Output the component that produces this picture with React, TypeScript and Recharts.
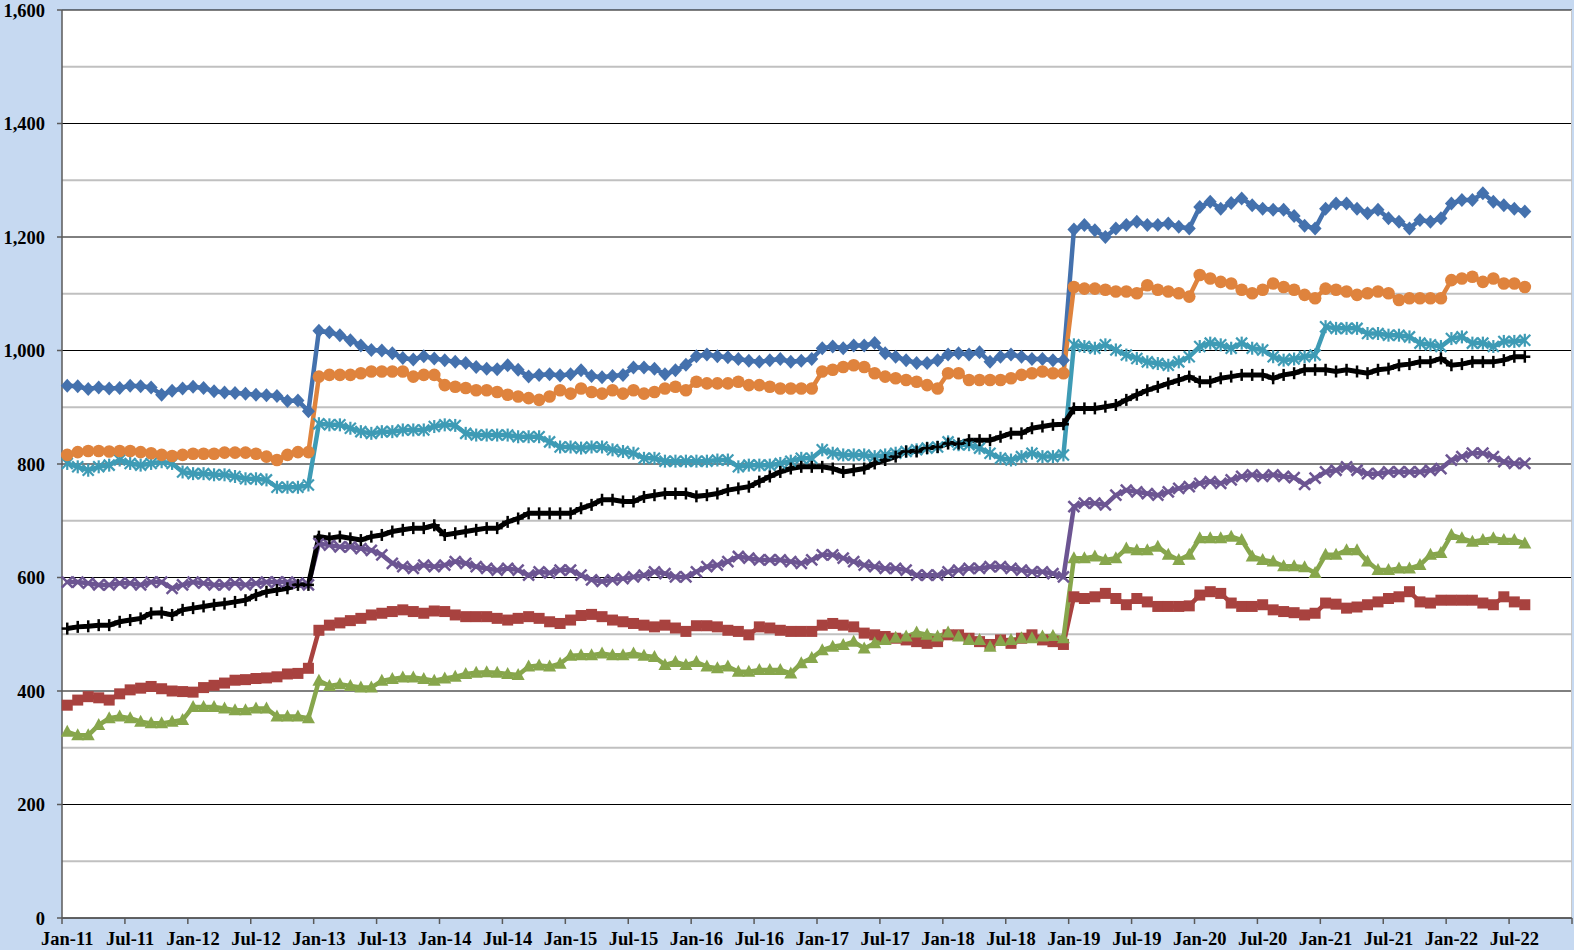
import { CartesianGrid, Line, LineChart, ReferenceLine, XAxis, YAxis } from 'recharts';

const monthNames = ['Jan', 'Feb', 'Mar', 'Apr', 'May', 'Jun', 'Jul', 'Aug', 'Sep', 'Oct', 'Nov', 'Dec'];
const years = ['11', '12', '13', '14', '15', '16', '17', '18', '19', '20', '21', '22'];
const categories = years.flatMap((y) => monthNames.map((m) => `${m}-${y}`));

const yTicks = [0, 200, 400, 600, 800, 1000, 1200, 1400, 1600];
const minorLines = [100, 300, 500, 700, 900, 1100, 1300, 1500];

// monthly values Jan-11 .. Aug-22
const blueSeries = [
  938, 937, 932, 935, 933, 934, 938, 937, 935, 922, 929, 933,
  936, 934, 928, 926, 925, 924, 922, 921, 920, 911, 912, 893,
  1035, 1032, 1027, 1018, 1009, 1001, 1000, 995, 987, 984, 990, 986,
  983, 980, 978, 971, 968, 967, 974, 966, 954, 957, 958, 956,
  958, 965, 955, 953, 955, 957, 970, 970, 968, 958, 965, 975,
  990, 993, 990, 988, 985, 982, 980, 983, 985, 980, 982, 985,
  1004, 1007, 1004, 1009, 1009, 1013, 995, 989, 983, 978, 978, 983,
  993, 995, 993, 997, 980, 989, 993, 989, 985, 985, 983, 983,
  1213, 1221, 1212, 1200, 1215, 1221, 1227, 1221, 1221, 1224, 1218, 1215,
  1253, 1262, 1250, 1260, 1268, 1256, 1250, 1248, 1248, 1237, 1220, 1215,
  1250, 1259, 1259, 1250, 1242, 1248, 1233, 1227, 1215, 1230, 1227, 1233,
  1259, 1265, 1265, 1277, 1262, 1256, 1250, 1245,
];
const redSeries = [
  375, 384, 390, 388, 384, 395, 402, 405, 408, 404, 400, 399,
  398, 406, 410, 414, 419, 420, 422, 423, 425, 430, 431, 440,
  507, 516, 520, 524, 528, 534, 537, 540, 543, 540, 537, 541,
  540, 534, 531, 531, 531, 528, 525, 528, 531, 528, 522, 519,
  525, 533, 535, 531, 525, 522, 519, 516, 513, 516, 511, 505,
  515, 515, 513, 507, 505, 499, 513, 511, 507, 505, 505, 505,
  516, 519, 516, 513, 502, 499, 496, 493, 490, 487, 484, 487,
  499, 499, 493, 487, 482, 490, 484, 493, 499, 490, 487, 482,
  566, 563, 566, 572, 563, 552, 563, 557, 549, 549, 549, 550,
  569, 575, 572, 555, 549, 549, 552, 543, 540, 538, 534, 537,
  555, 553, 546, 548, 552, 557, 563, 566, 575, 557, 555, 560,
  560, 560, 560, 555, 552, 566, 557, 552,
];
const greenSeries = [
  328, 322, 322, 340, 352, 355, 352, 346, 343, 343, 346, 349,
  372, 372, 372, 369, 366, 366, 369, 369, 355, 355, 355, 352,
  418, 409, 412, 409, 406, 406, 418, 421, 424, 424, 421, 418,
  422, 425, 430, 432, 433, 432, 430, 428, 443, 445, 443, 448,
  462, 463, 463, 466, 463, 463, 466, 462, 460, 446, 451, 446,
  451, 443, 440, 443, 434, 434, 437, 437, 437, 431, 449, 458,
  472, 478, 481, 487, 475, 484, 490, 494, 496, 503, 499, 496,
  503, 496, 490, 490, 478, 488, 490, 493, 493, 496, 497, 493,
  634, 634, 637, 631, 634, 651, 648, 648, 654, 640, 631, 640,
  669, 669, 669, 672, 666, 637, 631, 628, 620, 620, 618, 608,
  640, 640, 648, 648, 628, 613, 613, 616, 616, 622, 640, 643,
  675, 669, 663, 666, 669, 666, 666, 660,
];
const purpleSeries = [
  592, 592, 590, 587, 587, 590, 590, 587, 592, 592, 581, 587,
  592, 590, 587, 587, 590, 587, 590, 592, 592, 592, 590, 587,
  660, 657, 654, 654, 651, 648, 640, 625, 619, 616, 622, 619,
  622, 628, 625, 619, 616, 613, 616, 613, 604, 610, 608, 613,
  613, 604, 596, 593, 596, 598, 601, 604, 610, 607, 601, 601,
  610, 619, 622, 628, 637, 634, 631, 631, 631, 628, 625, 631,
  640, 640, 634, 628, 622, 619, 616, 616, 613, 604, 604, 604,
  610, 613, 616, 616, 619, 619, 616, 613, 610, 610, 607, 601,
  725, 731, 731, 728, 745, 754, 751, 748, 745, 751, 757, 760,
  766, 769, 766, 772, 778, 781, 778, 781, 778, 776, 764, 775,
  786, 789, 795, 789, 783, 783, 786, 786, 786, 786, 789, 792,
  807, 813, 819, 819, 813, 804, 801, 801,
];
const aquaSeries = [
  801, 795, 789, 795, 798, 807, 801, 798, 801, 804, 801, 786,
  783, 783, 781, 781, 778, 774, 774, 772, 759, 759, 759, 763,
  871, 869, 869, 863, 857, 854, 857, 857, 860, 860, 860, 866,
  869, 868, 854, 851, 851, 851, 851, 848, 848, 848, 839, 830,
  830, 828, 830, 830, 825, 822, 819, 810, 810, 805, 805, 805,
  805, 805, 807, 807, 795, 798, 798, 798, 801, 805, 810, 810,
  825, 819, 816, 816, 816, 813, 816, 819, 822, 825, 828, 830,
  839, 834, 834, 828, 819, 810, 807, 813, 819, 813, 813, 816,
  1010, 1007, 1004, 1010, 1001, 992, 986, 980, 977, 974, 980, 989,
  1007, 1013, 1010, 1004, 1013, 1004, 1001, 989, 983, 985, 989, 992,
  1042, 1039, 1039, 1039, 1030, 1030, 1027, 1027, 1024, 1013, 1010, 1007,
  1021, 1024, 1013, 1013, 1007, 1016, 1016, 1018,
];
const orangeSeries = [
  816, 821, 823, 823, 822, 823, 823, 821, 819, 816, 814, 816,
  818, 818, 818, 820, 820, 820, 818, 813, 807, 816, 821, 821,
  954, 957, 957, 957, 960, 963, 963, 963, 963, 954, 957, 957,
  939, 936, 934, 930, 930, 927, 922, 919, 916, 913, 919, 930,
  924, 933, 927, 924, 930, 924, 930, 924, 927, 933, 936, 930,
  945, 942, 942, 942, 945, 939, 939, 936, 933, 933, 933, 933,
  963, 966, 971, 974, 971, 960, 954, 951, 948, 945, 939, 933,
  960, 960, 948, 948, 948, 948, 951, 957, 960, 963, 960, 960,
  1112, 1109, 1109, 1107, 1104, 1104, 1101, 1115, 1107, 1104, 1101, 1095,
  1133, 1127, 1121, 1118, 1107, 1101, 1107, 1118, 1112, 1107, 1098, 1092,
  1109, 1107, 1104, 1098, 1101, 1104, 1101, 1089, 1092, 1092, 1092, 1092,
  1124, 1127, 1130, 1121, 1127, 1118, 1118, 1112,
];
const blackSeries = [
  510, 513, 514, 516, 516, 522, 525, 528, 537, 538, 534, 543,
  546, 549, 552, 554, 557, 560, 569, 575, 578, 581, 587, 587,
  672, 669, 672, 669, 666, 672, 675, 681, 684, 687, 687, 692,
  675, 678, 681, 684, 687, 687, 698, 704, 713, 713, 713, 713,
  713, 722, 728, 737, 737, 734, 734, 742, 745, 748, 748, 748,
  743, 745, 748, 754, 757, 760, 769, 778, 786, 792, 795, 795,
  795, 792, 786, 789, 792, 801, 807, 813, 822, 822, 828, 830,
  836, 836, 842, 842, 842, 848, 854, 854, 863, 866, 869, 870,
  898, 898, 898, 901, 904, 913, 922, 930, 936, 942, 948, 954,
  945, 945, 951, 954, 957, 957, 957, 951, 957, 960, 966, 966,
  966, 963, 966, 963, 960, 966, 968, 974, 976, 980, 980, 986,
  974, 976, 980, 980, 980, 983, 989, 989,
];

const data = categories.map((month, i) => ({
  month,
  blue: blueSeries[i],
  red: redSeries[i],
  green: greenSeries[i],
  purple: purpleSeries[i],
  aqua: aquaSeries[i],
  orange: orangeSeries[i],
  black: blackSeries[i],
}));

const FONT = '"Liberation Serif", "Times New Roman", serif';
const AXIS = '#5a5a5a';
const PLOT_W = 1510;
const BAND = PLOT_W / categories.length;

const makeDot = (kind: string, color: string) => (props: any) => {
  const { cx, cy, index } = props;
  if (cx == null || cy == null || props.value == null) return <g key={index} />;
  switch (kind) {
    case 'diamond':
      return <polygon key={index} points={`${cx},${cy - 7} ${cx + 6.5},${cy} ${cx},${cy + 7} ${cx - 6.5},${cy}`} fill={color} />;
    case 'square':
      return <rect key={index} x={cx - 5.5} y={cy - 5.5} width={11} height={11} fill={color} />;
    case 'triangle':
      return <polygon key={index} points={`${cx},${cy - 7} ${cx + 6.5},${cy + 5} ${cx - 6.5},${cy + 5}`} fill={color} />;
    case 'circle':
      return <circle key={index} cx={cx} cy={cy} r={6.3} fill={color} />;
    case 'x':
      return (
        <g key={index} stroke={color} strokeWidth={2.5}>
          <line x1={cx - 5.5} y1={cy - 5.5} x2={cx + 5.5} y2={cy + 5.5} />
          <line x1={cx - 5.5} y1={cy + 5.5} x2={cx + 5.5} y2={cy - 5.5} />
        </g>
      );
    case 'star':
      return (
        <g key={index} stroke={color} strokeWidth={2.2}>
          <line x1={cx - 5.5} y1={cy - 5.5} x2={cx + 5.5} y2={cy + 5.5} />
          <line x1={cx - 5.5} y1={cy + 5.5} x2={cx + 5.5} y2={cy - 5.5} />
          <line x1={cx} y1={cy - 6.5} x2={cx} y2={cy + 6.5} />
        </g>
      );
    default:
      return (
        <g key={index} stroke={color} strokeWidth={2.5}>
          <line x1={cx - 5.5} y1={cy} x2={cx + 5.5} y2={cy} />
          <line x1={cx} y1={cy - 6} x2={cx} y2={cy + 6} />
        </g>
      );
  }
};

const XTick = (props: any) => {
  const { x, y, payload } = props;
  const left = x - BAND / 2;
  return (
    <g>
      <line x1={left} x2={left} y1={y} y2={y + 6} stroke={AXIS} strokeWidth={1.5} />
      {payload.value === 'Jul-22' && (
        <line x1={left + 6 * BAND} x2={left + 6 * BAND} y1={y} y2={y + 6} stroke={AXIS} strokeWidth={1.5} />
      )}
      <text x={x} y={y + 27} textAnchor="middle" fontFamily={FONT} fontWeight="bold" fontSize={18.5} fill="#000">
        {payload.value}
      </text>
    </g>
  );
};

const series = [
  { key: 'blue', color: '#4471ad', marker: 'diamond', width: 4.5 },
  { key: 'red', color: '#a8423f', marker: 'square', width: 4.5 },
  { key: 'green', color: '#87a64c', marker: 'triangle', width: 4.5 },
  { key: 'purple', color: '#6c5592', marker: 'x', width: 4.5 },
  { key: 'aqua', color: '#3e9bb5', marker: 'star', width: 4.5 },
  { key: 'orange', color: '#df833d', marker: 'circle', width: 4.5 },
  { key: 'black', color: '#000000', marker: 'plus', width: 5 },
];

export default function App() {
  return (
    <div style={{ position: 'absolute', left: 0, top: 0, width: 1574, height: 950, background: '#c6d9f1' }}>
      <LineChart width={1574} height={950} data={data} margin={{ top: 10, right: 2, bottom: 0, left: 0 }}>
        <CartesianGrid vertical={false} fill="#ffffff" stroke="#000" strokeWidth={1} />
        <CartesianGrid horizontal={false} verticalPoints={[1571.5]} stroke="#c8c8c8" strokeWidth={1} />
        {minorLines.map((v) => (
          <ReferenceLine key={v} y={v} stroke="#c0c0c0" strokeWidth={2} />
        ))}
        <XAxis
          dataKey="month"
          interval={5}
          height={32}
          padding={{ left: BAND / 2, right: BAND / 2 }}
          tickLine={false}
          tickSize={0}
          tickMargin={0}
          axisLine={{ stroke: AXIS, strokeWidth: 1.5 }}
          tick={<XTick />}
        />
        <YAxis
          width={62}
          domain={[0, 1600]}
          ticks={yTicks}
          tickSize={5}
          tickMargin={12}
          tickFormatter={(v) => v.toLocaleString('en-US')}
          axisLine={{ stroke: AXIS, strokeWidth: 1.5 }}
          tickLine={{ stroke: AXIS, strokeWidth: 1.5 }}
          tick={{ fill: '#000', fontSize: 18.5, fontWeight: 'bold', fontFamily: FONT }}
        />
        {series.map((s) => (
          <Line
            key={s.key}
            dataKey={s.key}
            stroke={s.color}
            strokeWidth={s.width}
            dot={makeDot(s.marker, s.color)}
            activeDot={false}
            isAnimationActive={false}
          />
        ))}
      </LineChart>
    </div>
  );
}
